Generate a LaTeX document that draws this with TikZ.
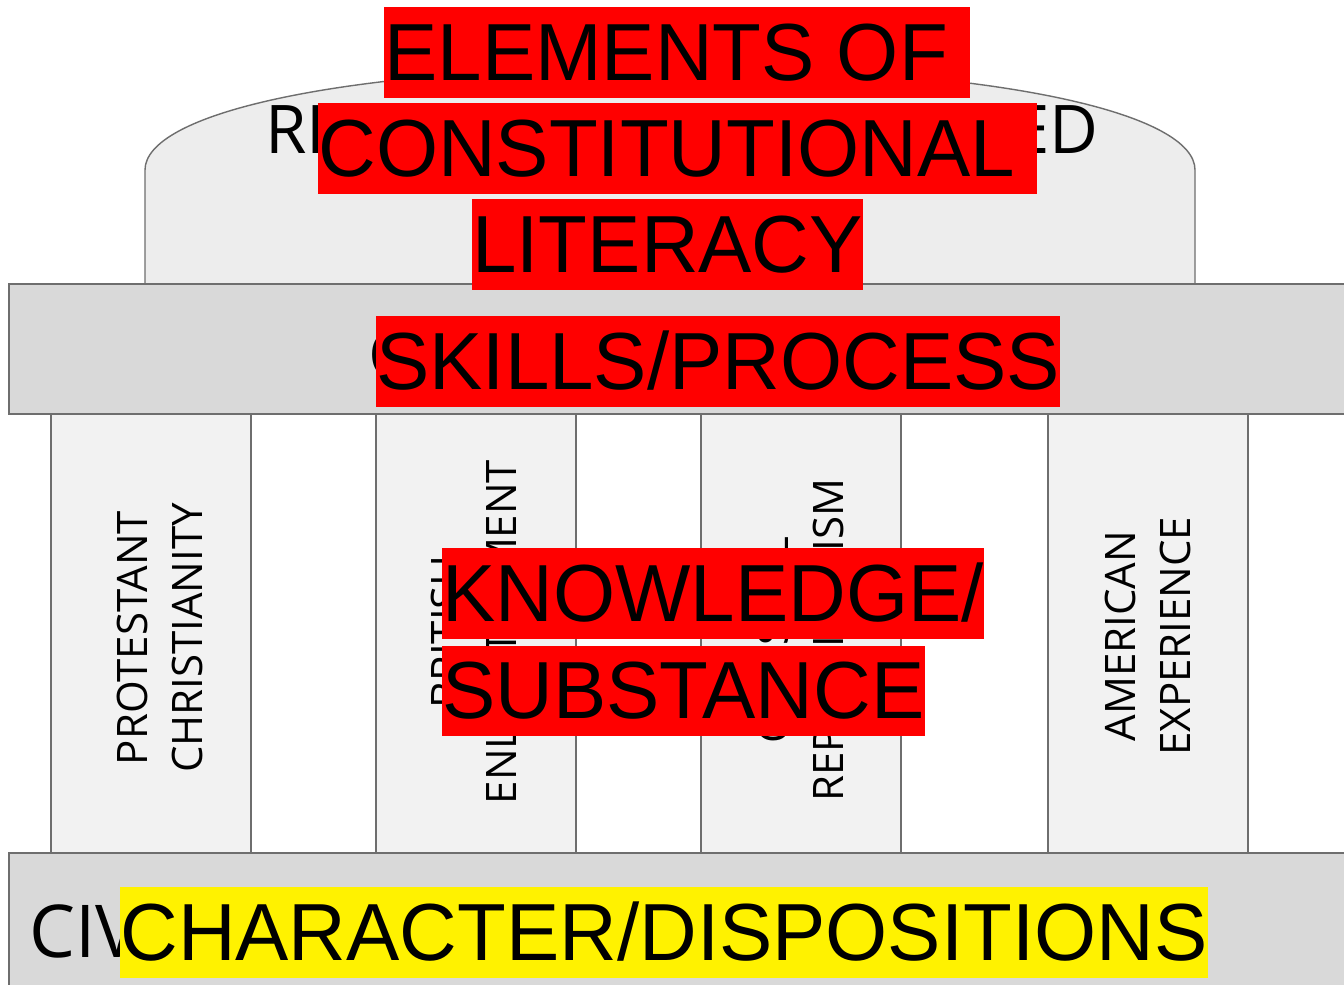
\documentclass[tikz,border=0pt]{standalone}
\usepackage{fontspec}
\setmainfont{Liberation Sans}[FakeStretch=0.986]
\newfontfamily\pillarfont{Open Sans}
\definecolor{edgegray}{HTML}{6E6E6E}
\definecolor{domegray}{HTML}{EDEDED}
\definecolor{bargray}{HTML}{D9D9D9}
\definecolor{pillargray}{HTML}{F2F2F2}

\begin{document}
\begin{tikzpicture}[x=0.02cm, y=-0.02cm,
    bar/.style = {draw=edgegray, line width=0.8pt, fill=bargray},
    pillar/.style = {draw=edgegray, line width=0.8pt, fill=pillargray},
    hl/.style = {fill=red, inner sep=0pt, anchor=north west,
      font=\fontsize{46.1}{55}\selectfont,
      text height=41.7pt, text depth=9.8pt},
    under/.style = {inner sep=0pt, font=\pillarfont\fontsize{38.2}{46}\selectfont},
    pillartext/.style = {rotate=90, align=center,
      font=\pillarfont\fontsize{23.9}{31.3}\selectfont}]
    \clip (0,0) rectangle (1344,984);
    \fill[white] (0,0) rectangle (1344,984);
    % dome, beam, pillars and base
    \draw[draw=edgegray, line width=0.8pt, fill=domegray]
      (145,284) -- (145,170) .. controls (145,115) and (330,68) .. (670,66)
      .. controls (1010,68) and (1195,115) .. (1195,170) -- (1195,284);
    \draw[bar] (9,284) rectangle (1400,414);
    \foreach \x in {51,376,701,1048}
      \draw[pillar] (\x,414) rectangle +(200,439);
    \draw[bar] (9,853) rectangle (1400,1010);
    % texts under the boxes
    \node[under, anchor=base west] (domeL) at (265,153) {RI};
    \node[under, anchor=base east] (domeR) at (1099,153) {ED};
    \node[under, anchor=base west] (civskill) at (368,378) {CIVIC SKILLS};
    \node[under, anchor=base west, font=\pillarfont\fontsize{41.5}{48}\selectfont]
      (civic) at (29,957) {CIVIC VIRTUE};
    \node[pillartext] (prot) at (160,638) {PROTESTANT\\CHRISTIANITY};
    \node[pillartext] (brit) at (474,632) {BRITISH\\ENLIGHTENMENT};
    \node[pillartext] (clas) at (801,640) {CLASSICAL\\REPUBLICANISM};
    \node[pillartext] (amer) at (1148,636) {AMERICAN\\EXPERIENCE};
    % highlighted boxes on top
    \node[hl] (elem) at (384,7) {ELEMENTS OF\ \mbox{}};
    \node[hl] (const) at (318,103) {CONSTITUTIONAL\ \mbox{}};
    \node[hl] (lit) at (472,199) {LITERACY};
    \node[hl] (skills) at (376,316) {SKILLS/PROCESS};
    \node[hl] (know) at (442,548) {KNOWLEDGE/};
    \node[hl] (subst) at ([yshift=-0.12cm]know.south west) {SUBSTANCE};
    \node[hl, fill=yellow] (char) at (120,887) {CHARACTER/DISPOSITIONS};
  \end{tikzpicture}
\end{document}
